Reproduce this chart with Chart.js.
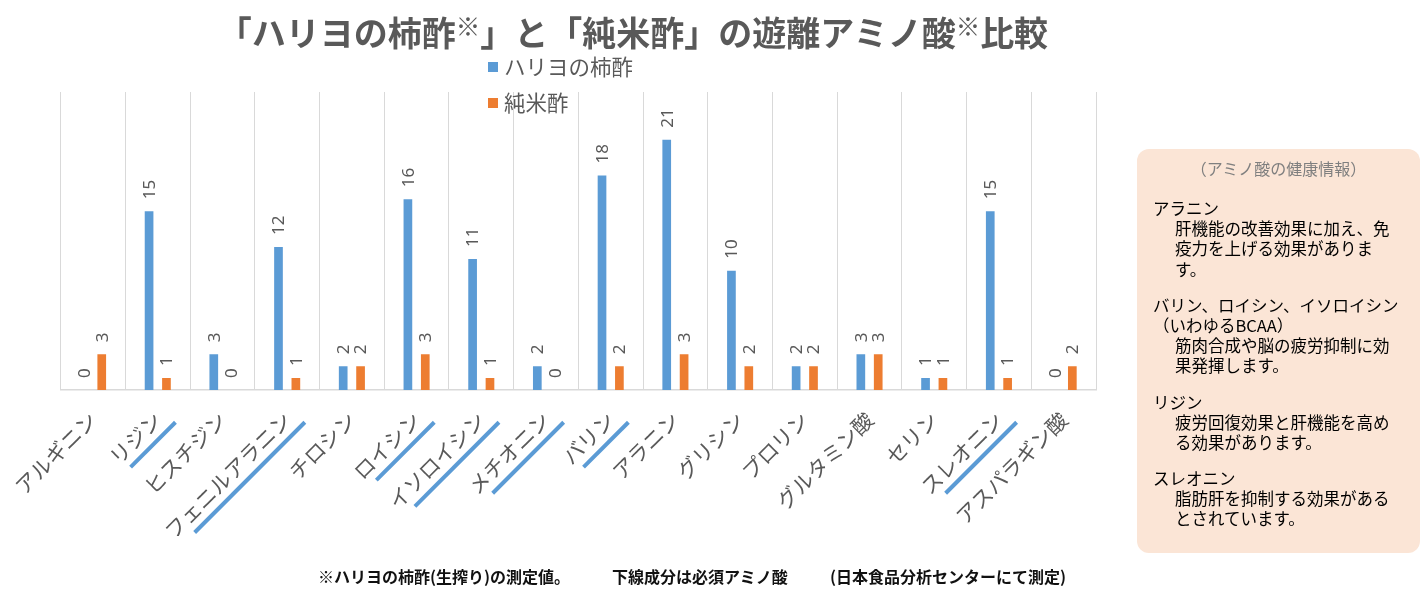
<!DOCTYPE html>
<html lang="ja">
<head>
<meta charset="utf-8">
<title>遊離アミノ酸比較</title>
<script src="https://cdn.jsdelivr.net/npm/chart.js@4.4.1/dist/chart.umd.min.js"></script>
<style>
  body {
    margin: 0;
    width: 1424px;
    height: 596px;
    position: relative;
    overflow: hidden;
    background: #fff;
    font-family: "Noto Sans CJK JP", "Noto Sans", sans-serif;
  }
  #wrap { position: absolute; left: 0; top: 0; width: 1424px; height: 596px; }
  #title {
    position: absolute; left: 0; top: 3px; width: 1266px;
    text-align: center; white-space: nowrap;
    font-size: 34px; line-height: 46px; font-weight: bold; color: #595959;
  }
  #title .k { font-size: 0.72em; vertical-align: 0.4em; }
  .note {
    position: absolute; top: 566px; line-height: 20px;
    font-size: 16px; font-weight: bold; color: #111; white-space: nowrap;
  }
  #info {
    position: absolute; left: 1137px; top: 149px; width: 283px; height: 404px;
    background: #fbe5d6; border-radius: 12px;
  }
  #info .head {
    position: absolute; left: 0; top: 9px; width: 283px; text-align: center;
    font-size: 16px; line-height: 20px; color: #7f7f7f;
  }
  #info .body { position: absolute; left: 16px; top: 49px; font-size: 16.5px; color: #000; }
  #info .ln { line-height: 20.2px; height: 20.2px; white-space: nowrap; }
  #info .in { padding-left: 22px; }
  #info .gap { height: 16px; }
</style>
</head>
<body>
<div id="wrap"><canvas id="aminoChart"></canvas></div>
<div id="title">「ハリヨの柿酢<span class="k">※</span>」と「純米酢」の遊離アミノ酸<span class="k">※</span>比較</div>

<div id="info">
  <div class="head">（アミノ酸の健康情報）</div>
  <div class="body">
    <div class="ln">アラニン</div>
    <div class="ln in">肝機能の改善効果に加え、免</div>
    <div class="ln in">疫力を上げる効果がありま</div>
    <div class="ln in">す。</div>
    <div class="gap"></div>
    <div class="ln">バリン、ロイシン、イソロイシン</div>
    <div class="ln">（いわゆるBCAA）</div>
    <div class="ln in">筋肉合成や脳の疲労抑制に効</div>
    <div class="ln in">果発揮します。</div>
    <div class="gap"></div>
    <div class="ln">リジン</div>
    <div class="ln in">疲労回復効果と肝機能を高め</div>
    <div class="ln in">る効果があります。</div>
    <div class="gap"></div>
    <div class="ln">スレオニン</div>
    <div class="ln in">脂肪肝を抑制する効果がある</div>
    <div class="ln in">とされています。</div>
  </div>
</div>

<div class="note" style="left:318px">※ハリヨの柿酢(生搾り)の測定値。</div>
<div class="note" style="left:612px">下線成分は必須アミノ酸</div>
<div class="note" style="left:830px">(日本食品分析センターにて測定)</div>

<script>
// Amino acids (x axis categories)
const aminoAcids = [
  "アルギニン", "リジン", "ヒスチジン", "フェニルアラニン", "チロシン",
  "ロイシン", "イソロイシン", "メチオニン", "バリン", "アラニン",
  "グリシン", "プロリン", "グルタミン酸", "セリン", "スレオニン", "アスパラギン酸",
];

// Essential amino acids get a blue underline
const essential = ["リジン", "フェニルアラニン", "ロイシン", "イソロイシン", "メチオニン", "バリン", "スレオニン"];

// Values
const hariyoValues = [0, 15, 3, 12, 2, 16, 11, 2, 18, 21, 10, 2, 3, 1, 15, 0];
const junmaiValues = [3, 1, 0, 1, 2, 3, 1, 0, 2, 3, 2, 2, 3, 1, 1, 2];

const seriesNames = ["ハリヨの柿酢", "純米酢"];
const yMax = 25;

const BLUE = "#5b9bd5";
const ORANGE = "#ed7d31";
const GRAY = "#595959";
const JP_FONT = '"Noto Sans CJK JP", "Noto Sans", sans-serif';
const TICK_SIZE = 21;
const TICK_PAD = 17;

// vertical value labels above each bar
const barLabels = {
  id: "barLabels",
  afterDatasetsDraw(chart) {
    const ctx = chart.ctx;
    ctx.save();
    ctx.font = "17px 'Noto Sans', sans-serif";
    ctx.fillStyle = GRAY;
    ctx.textAlign = "left";
    ctx.textBaseline = "middle";
    chart.data.datasets.forEach((ds, di) => {
      chart.getDatasetMeta(di).data.forEach((bar, i) => {
        ctx.save();
        ctx.translate(bar.x, bar.y - 12);
        ctx.rotate(-Math.PI / 2);
        ctx.fillText(String(ds.data[i]), 0, 1);
        ctx.restore();
      });
    });
    ctx.restore();
  },
};

// legend stacked inside the plot, like the original
const stackedLegend = {
  id: "stackedLegend",
  afterDraw(chart) {
    const ctx = chart.ctx;
    ctx.save();
    ctx.font = "21.5px " + JP_FONT;
    ctx.textBaseline = "middle";
    chart.data.datasets.forEach((ds, i) => {
      const y = 67 + i * 36;
      ctx.fillStyle = ds.backgroundColor;
      ctx.fillRect(488, y - 5, 10, 10);
      ctx.fillStyle = GRAY;
      ctx.fillText(ds.label, 504, y);
    });
    ctx.restore();
  },
};

// blue underline below the essential amino acid labels
const underlines = {
  id: "underlines",
  afterDraw(chart) {
    const ctx = chart.ctx;
    const xs = chart.scales.x;
    const c = Math.SQRT1_2;
    ctx.save();
    ctx.font = TICK_SIZE + "px " + JP_FONT;
    ctx.strokeStyle = BLUE;
    ctx.lineWidth = 4;
    ctx.lineCap = "butt";
    aminoAcids.forEach((name, i) => {
      if (!essential.includes(name)) return;
      const w = ctx.measureText(name).width;
      const ex = xs.getPixelForValue(i);
      const ey = xs.top + TICK_PAD + 0.354 * TICK_SIZE * 1.2;
      const v = 17;
      const u0 = -0.88 * w, u1 = 8;
      ctx.beginPath();
      ctx.moveTo(ex + c * u0 + c * v, ey - c * u0 + c * v);
      ctx.lineTo(ex + c * u1 + c * v, ey - c * u1 + c * v);
      ctx.stroke();
    });
    ctx.restore();
  },
};

new Chart(document.getElementById("aminoChart"), {
  type: "bar",
  data: {
    labels: aminoAcids,
    datasets: [
      { label: seriesNames[0], data: hariyoValues, backgroundColor: BLUE },
      { label: seriesNames[1], data: junmaiValues, backgroundColor: ORANGE },
    ],
  },
  options: {
    responsive: true,
    maintainAspectRatio: false,
    animation: false,
    categoryPercentage: 0.537,
    barPercentage: 0.5,
    layout: { padding: { left: 58, right: 328, top: 92, bottom: 0 } },
    plugins: {
      legend: { display: false },
      tooltip: { enabled: false },
    },
    scales: {
      x: {
        grid: { color: "#d9d9d9", drawTicks: false, offset: true },
        border: { display: true, color: "#d9d9d9", width: 1.5 },
        ticks: {
          autoSkip: false,
          minRotation: 45,
          maxRotation: 45,
          padding: TICK_PAD,
          color: GRAY,
          font: { family: JP_FONT, size: TICK_SIZE },
        },
        afterFit(scale) {
          scale.height = 206;
        },
      },
      y: { display: false, min: 0, max: yMax },
    },
  },
  plugins: [barLabels, stackedLegend, underlines],
});
</script>
</body>
</html>
